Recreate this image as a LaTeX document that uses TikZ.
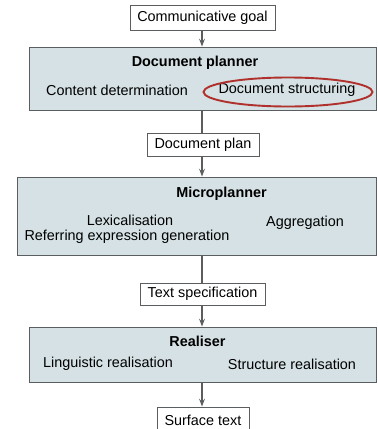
\documentclass[tikz,border=0pt]{standalone}
\usepackage{fontspec}
\setmainfont{Liberation Sans}
\usetikzlibrary{arrows.meta,shapes.geometric}
\definecolor{stagefill}{HTML}{D5E1E4}
\definecolor{edgegray}{HTML}{5A5E61}
\definecolor{ringred}{HTML}{B0302C}
\begin{document}
\begin{tikzpicture}[x=1pt,y=-1pt,
  every node/.style={font=\fontsize{14.4}{17}\selectfont, text=black},
  databox/.style={draw=edgegray, line width=0.9pt, fill=white, minimum height=#1, inner sep=0pt},
  stagebox/.style={draw=edgegray, line width=0.9pt, fill=stagefill, inner sep=0pt},
  label/.style={inner sep=0pt, anchor=center},
  flow/.style={draw=edgegray, line width=1.3pt},
  feed/.style={flow, -{Stealth[length=8pt, width=6pt, inset=3pt, open, fill=edgegray!40]}},
  ring/.style={draw=ringred, line width=1.9pt, ellipse}
]
\useasboundingbox (0,0) rectangle (378,429);

% stages of the pipeline
\node[stagebox, minimum width=347pt, minimum height=63pt] (planner) at (202.5,78.5) {};
\node[stagebox, minimum width=359pt, minimum height=78pt] (micro) at (196.5,216) {};
\node[stagebox, minimum width=347pt, minimum height=55pt] (realiser) at (202.5,354.5) {};

% intermediate representations
\node[databox=25pt, minimum width=145pt] (goal) at (202.5,17.5) {Communicative goal};
\node[databox=23pt, minimum width=112pt] (plan) at (203,144.5) {Document plan};
\node[databox=22pt, minimum width=125pt] (spec) at (202.5,294) {Text specification};
\node[databox=26pt, minimum width=92pt] (surface) at (203,420) {Surface text};

% stage contents
\node[label, font=\fontsize{14.4}{17}\selectfont\bfseries] (plannerT) at (195,63) {Document planner};
\node[label] (content) at (117,90) {Content determination};
\node[label] (structuring) at (287,90) {Document structuring};
\node[ring, minimum width=169pt, minimum height=29pt] (ring) at (288,92) {};

\node[label, font=\fontsize{14.4}{17}\selectfont\bfseries] (microT) at (221.5,194) {Microplanner};
\node[label] (lex) at (130,220) {Lexicalisation};
\node[label] (refexp) at (127,237) {Referring expression generation};
\node[label] (aggr) at (305,223) {Aggregation};

\node[label, font=\fontsize{14.4}{17}\selectfont\bfseries] (realT) at (197.5,341) {Realiser};
\node[label] (ling) at (108,364) {Linguistic realisation};
\node[label] (struct) at (292,364) {Structure realisation};

% connectors
\draw[feed] (goal.south -| 202,0) -- (planner.north -| 202,0);
\draw[flow] (planner.south -| 202,0) -- (plan.north -| 202,0);
\draw[feed] (plan.south -| 202,0) -- (micro.north -| 202,0);
\draw[flow] (micro.south -| 202,0) -- (spec.north -| 202,0);
\draw[feed] (spec.south -| 202,0) -- (realiser.north -| 202,0);
\draw[feed] (realiser.south -| 202,0) -- (surface.north -| 202,0);
\end{tikzpicture}
\end{document}
